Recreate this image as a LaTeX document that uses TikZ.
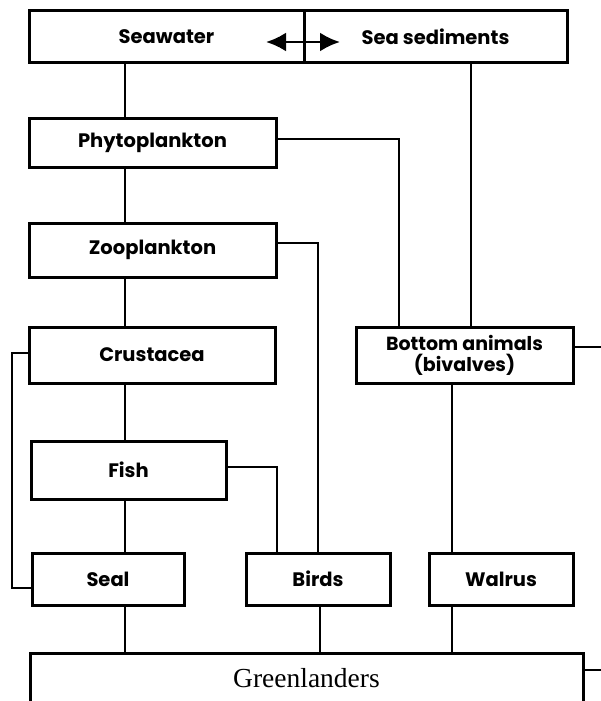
\documentclass[tikz,border=0pt]{standalone}
\usepackage{fontspec}
\setsansfont{Poppins}
\newfontfamily\gserif{Liberation Serif}
\usetikzlibrary{arrows.meta,calc}
\begin{document}
\begin{tikzpicture}[x=1pt,y=-1pt,
  box/.style={draw, line width=3pt, inner sep=0pt, align=center,
    font=\sffamily\bfseries\fontsize{19.5}{22}\selectfont},
  link/.style={line width=2.8pt}]
\useasboundingbox (0,0) rectangle (600,701);
% nodes
\node[box, minimum width=275pt, minimum height=52pt] (sw) at (166.5,37) {Seawater};
\node[box, minimum width=263pt, minimum height=52pt] (ss) at (435.5,37) {Sea sediments};
\node[box, minimum width=247pt, minimum height=49pt] (phyto) at (152.5,142.5) {Phytoplankton};
\node[box, minimum width=247pt, minimum height=54pt] (zoo) at (152.5,250) {Zooplankton};
\node[box, minimum width=246pt, minimum height=56pt] (crus) at (152,355) {Crustacea};
\node[box, minimum width=195pt, minimum height=58pt] (fish) at (128.5,470) {Fish};
\node[box, minimum width=152pt, minimum height=52pt] (seal) at (108,579) {Seal};
\node[box, minimum width=144pt, minimum height=52pt] (birds) at (318,579) {Birds};
\node[box, minimum width=144pt, minimum height=52pt] (walrus) at (501,579) {Walrus};
\node[box, minimum width=217pt, minimum height=56pt, font=\sffamily\bfseries\fontsize{19}{21}\selectfont] (bottom) at (464.5,355) {Bottom animals\\(bivalves)};
\node[box, minimum width=553pt, minimum height=50pt, font=\gserif\fontsize{27.5}{30}\selectfont] (green) at (306.5,678) {Greenlanders};
% column coordinates
\coordinate (xA) at (125,0);
\coordinate (xB) at (471,0);
\coordinate (xC) at (399,0);
\coordinate (xD) at (318,0);
\coordinate (xE) at (277,0);
\coordinate (xF) at (12,0);
\coordinate (xG) at (452,0);
\coordinate (xH) at (320,0);
\coordinate (xR) at (606,0);
% arrow
\coordinate (aL) at (266,42);
\coordinate (aR) at (340,42);
\draw[link, {Latex[length=20pt,width=19pt]}-{Latex[length=20pt,width=19pt]}] (aL) -- (aR);
% connectors
\draw[link] (sw.south -| xA) -- (phyto.north -| xA);
\draw[link] (phyto.south -| xA) -- (zoo.north -| xA);
\draw[link] (zoo.south -| xA) -- (crus.north -| xA);
\draw[link] (crus.south -| xA) -- (fish.north -| xA);
\draw[link] (fish.south -| xA) -- (seal.north -| xA);
\draw[link] (seal.south -| xA) -- (green.north -| xA);
\draw[link] (ss.south -| xB) -- (bottom.north -| xB);
\draw[link] ([yshift=3.5pt]phyto.east) -| (bottom.north -| xC);
\draw[link] ([yshift=7pt]zoo.east) -| (birds.north -| xD);
\draw[link] ([yshift=3pt]fish.east) -| (birds.north -| xE);
\draw[link] ([yshift=2pt]crus.west) -| ([yshift=-9pt]seal.west -| xF) -- ([yshift=-9pt]seal.west);
\draw[link] ([yshift=8pt]bottom.east) -- ([yshift=8pt]bottom.east -| xR);
\draw[link] (bottom.south -| xG) -- (walrus.north -| xG);
\draw[link] (birds.south -| xH) -- (green.north -| xH);
\draw[link] (walrus.south -| xG) -- (green.north -| xG);
\draw[link] ([yshift=8pt]green.east) -- ([yshift=8pt]green.east -| xR);
\end{tikzpicture}
\end{document}
